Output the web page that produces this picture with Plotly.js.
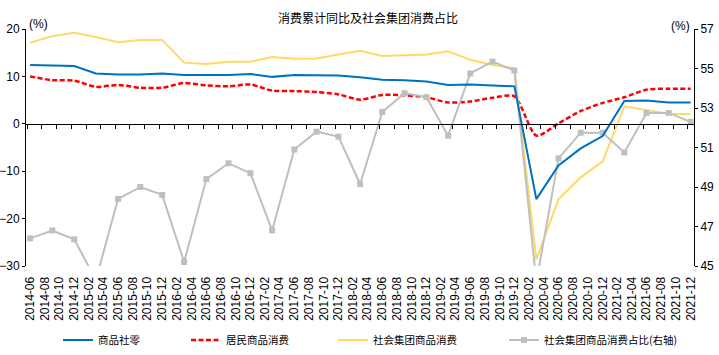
<!DOCTYPE html>
<html>
<head>
<meta charset="utf-8">
<script src="https://cdn.plot.ly/plotly-3.0.1.min.js"></script>
<style>html,body{margin:0;padding:0;background:#fff;}#chart{width:719px;height:355px;}</style>
</head>
<body>
<div id="chart"></div>
<script>
// quarterly observation dates
const quarters = ['2014-06','2014-09','2014-12','2015-03','2015-06','2015-09','2015-12',
  '2016-03','2016-06','2016-09','2016-12','2017-03','2017-06','2017-09','2017-12',
  '2018-03','2018-06','2018-09','2018-12','2019-03','2019-06','2019-09','2019-12',
  '2020-03','2020-06','2020-09','2020-12','2021-03','2021-06','2021-09','2021-12'];
// 商品社零 (%)
const retail = [12.4,12.3,12.2,10.6,10.4,10.4,10.6,10.3,10.3,10.3,10.5,9.9,10.3,10.3,10.2,
  9.8,9.3,9.2,8.9,8.2,8.3,8.1,7.9,-15.9,-8.8,-5.2,-2.6,4.8,4.9,4.5,4.5];
// 居民商品消费 (%)
const household = [10.0,9.2,9.1,7.8,8.2,7.6,7.6,8.6,8.1,7.9,8.3,7.0,6.9,6.7,6.2,
  5.1,6.1,6.0,5.6,4.5,4.7,5.5,5.8,-2.5,0.1,2.7,4.4,5.6,7.2,7.4,7.4];
// 社会集团商品消费 (%)
const group = [17.1,18.5,19.2,18.3,17.2,17.7,17.7,12.9,12.6,13.1,13.1,14.1,13.7,13.8,14.6,
  15.4,14.3,14.5,14.6,15.3,13.5,12.4,11.7,-28.6,-15.9,-11.3,-7.9,3.7,2.9,2.1,2.0];
// 社会集团商品消费占比 (右轴, %)
const groupShare = [46.4,46.8,46.35,44.3,48.4,49.0,48.6,45.2,49.4,50.2,49.7,46.8,50.9,51.8,51.55,
  49.15,52.8,53.75,53.55,51.6,54.75,55.35,54.9,44.2,50.45,51.75,51.75,50.75,52.75,52.75,52.3];
// x-axis tick labels (every two months)
const tickLabels = ['2014-06','2014-08','2014-10','2014-12',
  '2015-02','2015-04','2015-06','2015-08','2015-10','2015-12',
  '2016-02','2016-04','2016-06','2016-08','2016-10','2016-12',
  '2017-02','2017-04','2017-06','2017-08','2017-10','2017-12',
  '2018-02','2018-04','2018-06','2018-08','2018-10','2018-12',
  '2019-02','2019-04','2019-06','2019-08','2019-10','2019-12',
  '2020-02','2020-04','2020-06','2020-08','2020-10','2020-12',
  '2021-02','2021-04','2021-06','2021-08','2021-10','2021-12'];
const seriesNames = ['商品社零','居民商品消费','社会集团商品消费','社会集团商品消费占比(右轴)'];

const xDates = quarters.map(q => q + '-01');
const tickDates = tickLabels.map(t => t + '-01');
const tickMarkDates = tickLabels.map(t => {
  const d = new Date(t + '-01T00:00:00Z');
  d.setUTCDate(d.getUTCDate() - 12);
  return d.toISOString().slice(0, 10);
});
const xRange = ['2014-05-15', '2021-12-15'];

const numFont = {family: '"Liberation Sans Narrow", "Arial Narrow", "Liberation Sans", Arial, sans-serif', size: 12, color: '#000'};
const cjk = '"Noto Sans CJK SC", "Noto Sans", sans-serif';

const traces = [
  {x: xDates, y: retail, name: seriesNames[0], type: 'scatter', mode: 'lines',
   xaxis: 'x2', yaxis: 'y', legend: 'legend',
   line: {color: '#0070C0', width: 2}},
  {x: xDates, y: household, name: seriesNames[1], type: 'scatter', mode: 'lines',
   xaxis: 'x', yaxis: 'y', legend: 'legend2',
   line: {color: '#FF0000', width: 2.5, dash: '5px,2.5px', shape: 'spline', smoothing: 0.7}},
  {x: xDates, y: group, name: seriesNames[2], type: 'scatter', mode: 'lines',
   xaxis: 'x', yaxis: 'y', legend: 'legend3',
   line: {color: '#FFD966', width: 2}},
  {x: xDates, y: groupShare, name: seriesNames[3], type: 'scatter', mode: 'lines+markers',
   xaxis: 'x', yaxis: 'y2', legend: 'legend4', cliponaxis: true,
   line: {color: '#BFBFBF', width: 2}, marker: {symbol: 'square', size: 6, color: '#BFBFBF'}}
];

function leg(px) {
  return {x: (px - 26) / 668, y: -74 / 237, xanchor: 'left', yanchor: 'middle', orientation: 'h',
    bgcolor: 'rgba(0,0,0,0)', font: {family: cjk, size: 10.5, color: '#000'},
    itemwidth: 30, tracegroupgap: 0};
}

const layout = {
  width: 719, height: 355,
  margin: {l: 26, r: 25, t: 29, b: 89, autoexpand: false},
  paper_bgcolor: '#fff', plot_bgcolor: '#fff',
  title: {text: '消费累计同比及社会集团消费占比', font: {family: cjk, size: 12, color: '#000'},
    xref: 'container', x: 368 / 719, xanchor: 'center', yref: 'container', y: 1 - 19 / 355, yanchor: 'middle',
    automargin: false},
  xaxis: {type: 'date', range: xRange, tickvals: tickDates, ticktext: tickLabels, tickangle: -90,
    ticks: 'outside', ticklen: 5, tickcolor: 'rgba(0,0,0,0)', showline: false, showgrid: false, zeroline: false,
    automargin: false,
    tickfont: {family: '"Liberation Sans", Arial, sans-serif', size: 12, color: '#000'}, anchor: 'y'},
  xaxis2: {type: 'date', range: xRange, overlaying: 'x', anchor: 'free', position: 0.6, automargin: false,
    tickvals: tickMarkDates, ticks: 'outside', ticklen: 4, tickcolor: '#000', tickwidth: 1,
    showticklabels: false, showline: true, linecolor: '#000', linewidth: 1, showgrid: false, zeroline: false},
  yaxis: {range: [-30, 20], tick0: -30, dtick: 10, ticks: 'outside', ticklen: 3, tickcolor: '#000',
    automargin: false,
    showline: true, linecolor: '#000', linewidth: 1, showgrid: false, zeroline: false, tickfont: numFont},
  yaxis2: {range: [45, 57], tick0: 45, dtick: 2, overlaying: 'y', side: 'right', anchor: 'x',
    automargin: false,
    ticks: 'outside', ticklen: 3, tickcolor: '#000', showline: true, linecolor: '#000', linewidth: 1,
    showgrid: false, zeroline: false, tickfont: numFont},
  legend: leg(58), legend2: leg(186), legend3: leg(333), legend4: leg(504),
  annotations: [
    {text: '(%)', xref: 'paper', yref: 'paper', x: (38 - 26) / 668, y: (266 - 24) / 237,
     xanchor: 'center', yanchor: 'middle', showarrow: false, font: numFont},
    {text: '(%)', xref: 'paper', yref: 'paper', x: (680 - 26) / 668, y: (266 - 26) / 237,
     xanchor: 'center', yanchor: 'middle', showarrow: false, font: numFont}
  ],
  showlegend: true
};

Plotly.newPlot('chart', traces, layout, {displayModeBar: false, staticPlot: true});
</script>
</body>
</html>
